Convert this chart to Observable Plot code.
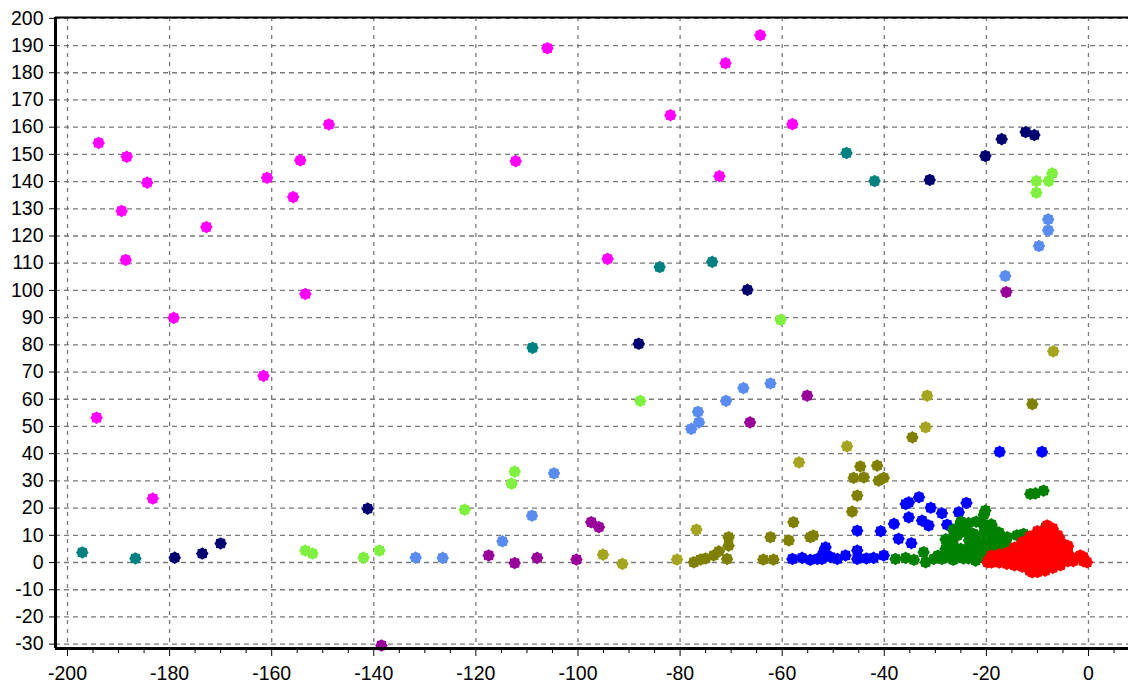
<!DOCTYPE html>
<html><head><meta charset="utf-8">
<script src="https://cdn.jsdelivr.net/npm/d3@7"></script>
<script src="https://cdn.jsdelivr.net/npm/@observablehq/plot@0.6"></script>
<style>html,body{margin:0;padding:0;background:#fff;} #chart svg{display:block}</style>
</head><body><div id="chart"></div>
<script>
// Tick values
const xMajorTicks = [-200,-180,-160,-140,-120,-100,-80,-60,-40,-20,0];
const xMinorTicks = [-195,-190,-185,-175,-170,-165,-155,-150,-145,-135,-130,-125,-115,-110,-105,-95,-90,-85,-75,-70,-65,-55,-50,-45,-35,-30,-25,-15,-10,-5,5];
const yTicks = [-30,-20,-10,0,10,20,30,40,50,60,70,80,90,100,110,120,130,140,150,160,170,180,190,200];

// Series (x, y) values
const magenta = [[-193.9,154.2],[-188.4,149.1],[-184.4,139.6],[-189.4,129.2],[-172.8,123.3],[-160.9,141.4],[-155.8,134.3],[-154.4,147.8],[-148.8,161.0],[-188.6,111.2],[-179.2,89.9],[-194.3,53.2],[-183.3,23.5],[-161.6,68.6],[-153.4,98.7],[-112.2,147.5],[-106.0,189.0],[-94.2,111.6],[-81.9,164.4],[-71.1,183.5],[-72.3,142.0],[-64.3,193.8],[-58.0,161.1]];
const teal = [[-197.1,3.7],[-186.7,1.5],[-108.9,78.9],[-84.0,108.6],[-73.7,110.5],[-47.4,150.5],[-41.9,140.2]];
const navy = [[-179.0,1.8],[-173.6,3.3],[-170.0,7.0],[-141.2,19.8],[-88.1,80.4],[-66.8,100.2],[-31.1,140.6],[-20.2,149.4],[-17.0,155.6],[-12.3,158.2],[-10.6,157.1]];
const lightGreen = [[-153.4,4.4],[-152.0,3.3],[-142.0,1.8],[-138.9,4.4],[-122.2,19.4],[-112.4,33.4],[-113.0,29.0],[-87.8,59.4],[-60.3,89.2],[-10.2,140.2],[-7.8,140.2],[-7.1,143.0],[-10.2,135.9]];
const cornflower = [[-131.8,1.8],[-126.5,1.7],[-114.8,7.8],[-109.0,17.2],[-104.7,32.8],[-77.8,49.1],[-76.3,51.5],[-76.5,55.4],[-71.0,59.4],[-67.6,64.1],[-62.3,65.8],[-7.9,126.1],[-7.9,122.1],[-9.7,116.3],[-16.3,105.3]];
const purple = [[-138.5,-30.5],[-117.5,2.6],[-112.4,-0.2],[-108.0,1.7],[-100.3,1.1],[-97.4,14.8],[-95.9,13.0],[-66.3,51.5],[-55.1,61.3],[-16.1,99.4]];
const oliveLight = [[-95.1,2.9],[-91.3,-0.5],[-80.6,1.1],[-76.8,12.1],[-56.7,36.8],[-47.3,42.7],[-31.6,61.3],[-31.9,49.7],[-6.9,77.6]];
const olive = [[-77.3,0.1],[-76.0,1.1],[-75.0,1.5],[-73.4,2.6],[-72.4,4.1],[-70.8,1.3],[-70.5,6.2],[-70.5,9.3],[-63.7,1.1],[-61.7,1.1],[-62.3,9.3],[-58.7,8.1],[-57.8,14.8],[-54.5,9.3],[-53.9,9.9],[-45.3,24.6],[-46.3,18.7],[-44.7,35.3],[-41.4,35.6],[-46.0,31.1],[-44.0,31.3],[-41.1,30.1],[-40.1,31.1],[-34.5,46.0],[-11.0,58.2]];
const blue = [[-58.0,1.3],[-56.1,1.7],[-54.5,1.0],[-53.1,1.3],[-52.2,1.3],[-51.9,3.8],[-51.5,5.6],[-50.5,2.0],[-49.2,1.3],[-47.6,2.6],[-45.3,4.4],[-45.3,1.3],[-45.3,11.7],[-43.5,1.5],[-42.1,1.7],[-40.7,11.5],[-40.1,2.6],[-38.1,14.2],[-37.2,8.7],[-35.8,21.5],[-35.2,22.1],[-33.2,24.0],[-30.9,20.1],[-28.7,18.1],[-25.4,18.5],[-23.9,21.9],[-35.2,16.6],[-32.6,15.4],[-31.3,13.6],[-27.7,13.9],[-34.7,7.1],[-17.4,40.7],[-9.1,40.7]];
const green = [[-37.8,1.3],[-35.8,1.7],[-34.2,1.0],[-32.3,3.8],[-31.9,0.1],[-30.3,1.3],[-29.5,2.5],[-28.7,1.3],[-27.4,2.6],[-26.5,1.0],[-26.4,6.2],[-25.7,9.9],[-25.1,14.2],[-24.1,12.4],[-23.4,8.1],[-24.4,3.8],[-24.5,1.5],[-22.5,3.8],[-22.1,0.7],[-21.2,14.8],[-20.2,19.1],[-19.2,12.4],[-18.5,8.1],[-20.5,7.5],[-22.5,10.5],[-28.0,5.0],[-26.0,4.0],[-23.0,6.0],[-21.0,5.0],[-19.5,4.0],[-27.0,8.5],[-21.0,2.0],[-19.0,2.5],[-18.9,13.0],[-15.9,9.3],[-14.0,10.0],[-12.7,10.5],[-8.4,13.0],[-11.4,25.2],[-10.4,25.4],[-8.8,26.4],
  [-28,2],[-28,8.5],[-26.5,5],[-26.5,12],[-25,2],[-25,5],[-25,11],[-25,15],[-23.5,1.5],[-23.5,4.5],[-23.5,11],[-23.5,14.5],[-22,2],[-22,8],[-22,15],[-20.5,2],[-20.5,11],[-20.5,14],[-20.5,17.5],[-19,5],[-19,8],[-19,11],[-19,14],[-17.5,2],[-17.5,5],[-17.5,8.5],[-17.5,11],[-16,3],[-16,6]];
const red = [[-19.8,0.1],[-19.5,1.0],[-18.5,0.5],[-17.5,1.5],[-16.5,1.0],[-16.0,2.5],[-15.0,1.0],[-14.5,3.0],[-14.0,1.0],[-13.5,2.0],[-13.0,4.0],[-12.5,0.0],[-12.0,6.0],[-12.0,2.0],[-11.5,8.0],[-11.0,3.0],[-11.0,-1.0],[-11.0,-3.6],[-10.5,10.0],[-10.5,5.0],[-10.0,0.0],[-10.0,-3.0],[-9.5,7.0],[-9.5,2.0],[-9.0,11.0],[-9.0,4.0],[-8.5,-2.0],[-8.5,9.0],[-8.1,13.6],[-8.0,1.0],[-8.0,6.0],[-7.5,12.0],[-7.5,3.0],[-7.0,8.0],[-7.0,-0.5],[-6.5,4.0],[-6.0,10.0],[-6.0,1.0],[-5.5,6.0],[-5.0,2.5],[-4.5,4.0],[-4.2,6.2],[-4.0,1.0],[-3.5,1.5],[-3.0,0.5],[-1.6,2.6],[-0.3,0.1],
  [-19,0],[-19,2.5],[-17.5,0],[-17.5,3],[-16,-0.5],[-16,3.5],[-14.5,-1],[-14.5,2],[-14.5,5.5],[-13,-1.5],[-13,1.5],[-13,4.5],[-13,7.5],[-11.5,-3],[-11.5,0],[-11.5,3],[-11.5,6],[-11.5,9.5],[-10,-3.5],[-10,-0.5],[-10,2.5],[-10,5.5],[-10,8.5],[-10,11.5],[-8.5,-3],[-8.5,0],[-8.5,3],[-8.5,6],[-8.5,12],[-7,-2],[-7,1],[-7,4],[-7,7],[-7,10],[-7,12.5],[-5.5,-1],[-5.5,2],[-5.5,5],[-5.5,8],[-4,0.5],[-4,3.5],[-4,6],[-2.5,1.5],[-1,2],[-1,0.5]];

const seriesColors = ["#ff00ff","#008080","#000070","#80f040","#5a8cf0","#990099","#a4a420","#808000","#0000ff","#008000","#ff0000"];
const seriesData = [magenta, teal, navy, lightGreen, cornflower, purple, oliveLight, olive, blue, green, red];

const star = {
  draw(ctx, size) {
    const r = Math.sqrt(size / Math.PI), n = 16;
    for (let i = 0; i < n; i++) {
      const a = i * 2 * Math.PI / n - Math.PI / 2;
      const rr = i % 2 ? r * 0.84 : r;
      const px = rr * Math.cos(a), py = rr * Math.sin(a);
      if (i) ctx.lineTo(px, py); else ctx.moveTo(px, py);
    }
    ctx.closePath();
  }
};

const xDom = [-202.35, 7.84], yDom = [-31.6, 200.3];
const grid = {stroke: "#7a7a7a", strokeOpacity: 1, strokeWidth: 1.3};

const chart = Plot.plot({
  width: 1128, height: 683,
  marginLeft: 55, marginRight: 0, marginTop: 17, marginBottom: 35,
  x: {domain: xDom},
  y: {domain: yDom},
  style: {fontFamily: "'Liberation Sans', Arial, sans-serif", fontSize: "19.5px", color: "#000", background: "#fff"},
  marks: [
    Plot.gridX(xMajorTicks, {...grid, strokeDasharray: "4,5"}),
    Plot.gridY(yTicks, {...grid, strokeDasharray: "5,4"}),
    ...seriesData.map((pts, i) => Plot.dot(pts, {x: d => d[0], y: d => d[1], fill: seriesColors[i], r: 6.3, symbol: star})),
    Plot.ruleX([xDom[0]], {stroke: "#000", strokeWidth: 3}),
    Plot.ruleY([yDom[0]], {stroke: "#000", strokeWidth: 3}),
    Plot.ruleY([yDom[1]], {stroke: "#000", strokeWidth: 2}),
    Plot.axisX(xMajorTicks, {anchor: "bottom", tickSize: 8, tickPadding: 10, tickFormat: d => String(d), fontSize: 19.5, label: null}),
    Plot.axisX(xMinorTicks, {anchor: "bottom", tickSize: 5, tickFormat: () => "", label: null}),
    Plot.axisY(yTicks, {anchor: "left", tickSize: 6, tickPadding: 6, tickFormat: d => String(d), fontSize: 19.5, label: null})
  ]
});
document.getElementById("chart").appendChild(chart);
</script>
</body></html>
